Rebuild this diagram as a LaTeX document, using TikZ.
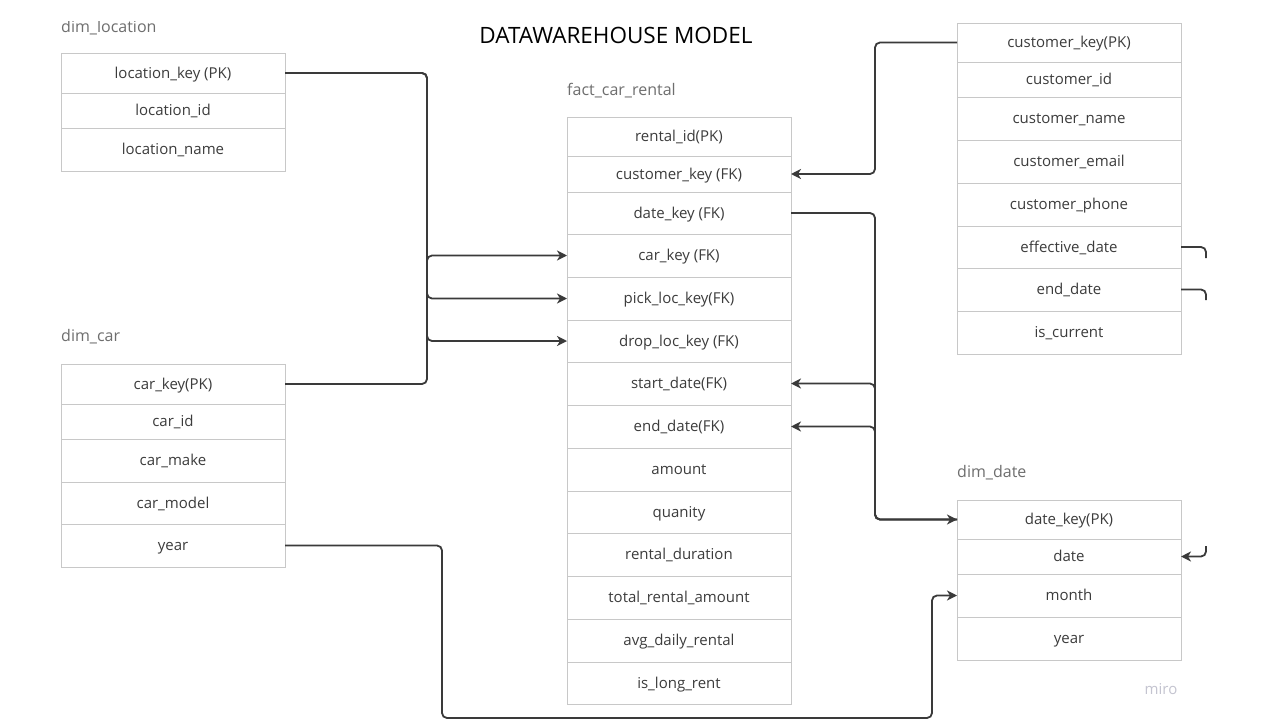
\documentclass[tikz,border=0pt]{standalone}
\usepackage{fontspec}
\setmainfont{Open Sans}
\usetikzlibrary{arrows.meta}
\definecolor{gridc}{HTML}{C8C8C8}
\definecolor{txt}{HTML}{3C3C3C}
\definecolor{ttl}{HTML}{6E6E6E}
\definecolor{wire}{HTML}{3A3A3A}
\definecolor{miroc}{HTML}{C4C4D0}
\tikzset{
  row/.style={draw=gridc, line width=1pt, fill=white, minimum width=224pt, inner sep=0pt, outer sep=0pt, text=txt, text height=12pt, text depth=2pt, font=\fontsize{15}{17}\selectfont},
  tabletitle/.style={anchor=west, inner sep=0pt, text=ttl, font=\fontsize{16}{18}\selectfont},
  link/.style={draw=wire, line width=1.8pt, rounded corners=5pt},
  linkarrow/.style={link, -{Stealth[length=10pt,width=10pt,inset=3pt]}}
}
\begin{document}
\begin{tikzpicture}[x=1pt,y=-1pt]
\useasboundingbox (0,0) rectangle (1280,720);
\fill[white] (0,0) rectangle (1280,720);

% title
\node[text=black, font=\fontsize{22.5}{26}\selectfont, inner sep=0pt] (title) at (616,35) {DATAWAREHOUSE MODEL};

% dim_location
\node[tabletitle] (tloc) at (61,28) {dim\_location};
\fill[white] (50,0) rectangle (200,20.5);
\node[row, minimum height=40pt] (lockey) at (173,73) {location\_key (PK)};
\node[row, minimum height=35pt] (locid) at (173,110.5) {location\_id};
\node[row, minimum height=43pt] (locname) at (173,149.5) {location\_name};

% dim_car
\node[tabletitle] (tcar) at (61,337) {dim\_car};
\node[row, minimum height=40pt] (carkey) at (173,384) {car\_key(PK)};
\node[row, minimum height=35pt] (carid) at (173,421.5) {car\_id};
\node[row, minimum height=43pt] (carmake) at (173,460.5) {car\_make};
\node[row, minimum height=42pt] (carmodel) at (173,503) {car\_model};
\node[row, minimum height=43pt] (caryear) at (173,545.5) {year};

% fact table
\node[tabletitle] (tfact) at (567,91) {fact\_car\_rental};
\node[row, minimum height=39pt] (frid) at (679,136.5) {rental\_id(PK)};
\node[row, minimum height=36pt] (fcust) at (679,174) {customer\_key (FK)};
\node[row, minimum height=42pt] (fdate) at (679,213) {date\_key (FK)};
\node[row, minimum height=43pt] (fcar) at (679,255.5) {car\_key (FK)};
\node[row, minimum height=43pt] (fpick) at (679,298.5) {pick\_loc\_key(FK)};
\node[row, minimum height=42pt] (fdrop) at (679,341) {drop\_loc\_key (FK)};
\node[row, minimum height=43pt] (fstart) at (679,383.5) {start\_date(FK)};
\node[row, minimum height=43pt] (fend) at (679,426.5) {end\_date(FK)};
\node[row, minimum height=43pt] (famount) at (679,469.5) {amount};
\node[row, minimum height=42pt] (fqty) at (679,512) {quanity};
\node[row, minimum height=43pt] (fdur) at (679,554.5) {rental\_duration};
\node[row, minimum height=43pt] (ftotal) at (679,597.5) {total\_rental\_amount};
\node[row, minimum height=43pt] (favg) at (679,640.5) {avg\_daily\_rental};
\node[row, minimum height=42pt] (flong) at (679,683) {is\_long\_rent};

% customer table
\node[row, minimum height=39pt] (ckey) at (1069,42.5) {customer\_key(PK)};
\node[row, minimum height=35pt] (cid) at (1069,79.5) {customer\_id};
\node[row, minimum height=43pt] (cname) at (1069,118.5) {customer\_name};
\node[row, minimum height=43pt] (cemail) at (1069,161.5) {customer\_email};
\node[row, minimum height=43pt] (cphone) at (1069,204.5) {customer\_phone};
\node[row, minimum height=42pt] (ceff) at (1069,247) {effective\_date};
\node[row, minimum height=43pt] (cend) at (1069,289.5) {end\_date};
\node[row, minimum height=43pt] (ccur) at (1069,332.5) {is\_current};

% dim_date
\node[tabletitle] (tdate) at (957,473) {dim\_date};
\node[row, minimum height=39pt] (dkey) at (1069,519.5) {date\_key(PK)};
\node[row, minimum height=35pt] (ddate) at (1069,556.5) {date};
\node[row, minimum height=43pt] (dmonth) at (1069,595.5) {month};
\node[row, minimum height=43pt] (dyear) at (1069,638.5) {year};

% watermark
\node[text=miroc, font=\fontsize{15}{17}\selectfont, inner sep=0pt] (miro) at (1161,689) {miro};

% free ends at the right edge
\coordinate (effend) at (1206,258);
\coordinate (endend) at (1206,300);
\coordinate (datestart) at (1206,546);

% connectors
\draw[linkarrow] (lockey.east) -- (427,73) -- (427,298.5) -- (fpick.west);
\draw[linkarrow] (lockey.east) -- (427,73) -- (427,341) -- (fdrop.west);
\draw[linkarrow] (carkey.east) -- (427,384) -- (427,255.5) -- (fcar.west);
\draw[linkarrow] (ckey.west) -- (875,42.5) -- (875,174) -- (fcust.east);
\draw[linkarrow] (fdate.east) -- (875,213) -- (875,519.5) -- (dkey.west);
\draw[linkarrow] (dkey.west) -- (875,519.5) -- (875,383.5) -- (fstart.east);
\draw[linkarrow] (dkey.west) -- (875,519.5) -- (875,426.5) -- (fend.east);
\draw[linkarrow] (caryear.east) -- (442,545.5) -- (442,718) -- (932,718) -- (932,595.5) -- (dmonth.west);
\draw[link] (ceff.east) -- (1206,247) -- (effend);
\draw[link] (cend.east) -- (1206,289.5) -- (endend);
\draw[linkarrow] (datestart) -- (1206,556.5) -- (ddate.east);
\end{tikzpicture}
\end{document}
